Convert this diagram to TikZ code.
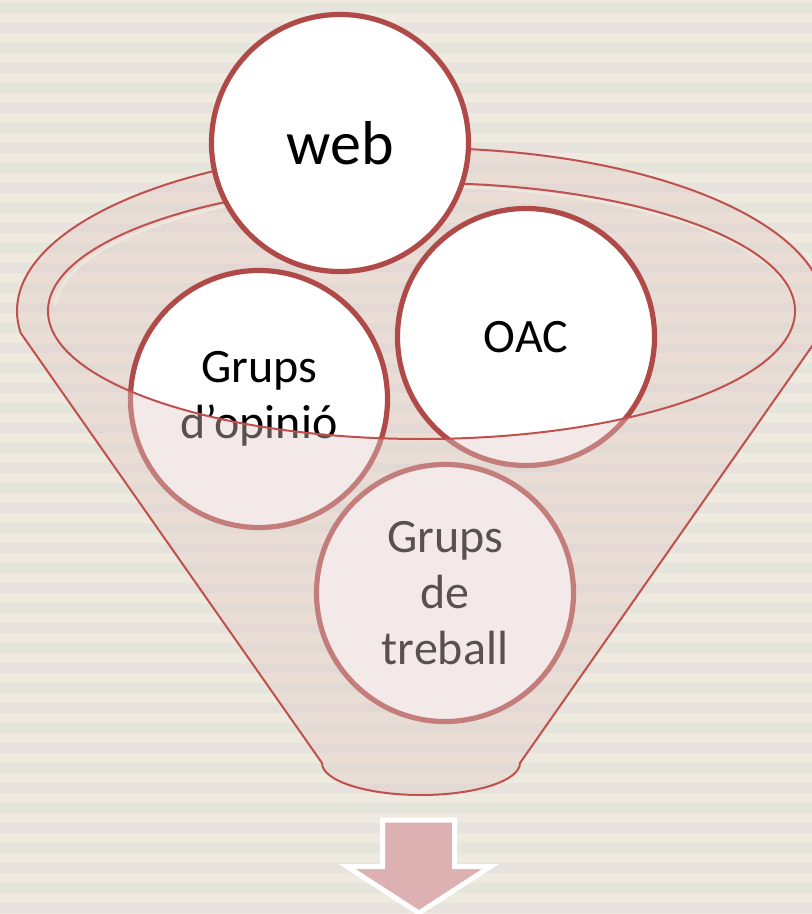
\documentclass[tikz,border=0pt]{standalone}
\usepackage{fontspec}
\setmainfont{Carlito}
\definecolor{paper}{RGB}{239,234,223}
\definecolor{stripeA}{RGB}{229,229,219}
\definecolor{stripeB}{RGB}{231,226,221}
\definecolor{funnelline}{RGB}{192,80,77}
\definecolor{funnelfill}{RGB}{225,202,200}
\definecolor{bubbleline}{RGB}{176,74,72}
\definecolor{arrowfill}{RGB}{221,176,177}
\begin{document}
\begin{tikzpicture}[x=0.5pt, y=0.5pt,
		bubble/.style={shape=circle, draw=bubbleline, line width=2.6pt, fill=white, minimum size=128.5pt, inner sep=0pt, align=center, font=\fontsize{24}{28}\selectfont},
		rim/.style={draw=funnelline, line width=1pt},
		glass/.style={fill=funnelfill, fill opacity=0.4}]
		\useasboundingbox (0,0) rectangle (812,-914);
		\fill[paper] (0,0) rectangle (812,-914);
		\foreach \s [count=\i] in {0,20,...,900}
			{\ifodd\i \fill[stripeA] (0,-\s-3) rectangle ++(812,-10); \else \fill[stripeB] (0,-\s-3) rectangle ++(812,-10); \fi}
		\fill[glass] (17,-311) arc[start angle=180, end angle=0, x radius=404, y radius=163] -- (795,-311) arc[start angle=0, end angle=-180, x radius=373.5, y radius=128] -- cycle;
		\draw[rim] (17,-311) arc[start angle=180, end angle=0, x radius=404, y radius=163];
		\draw[paper, line width=1.2pt, opacity=0.9] (55,-305) arc[start angle=177, end angle=-2, x radius=370, y radius=125];
		\draw[rim] (48,-311) arc[start angle=180, end angle=0, x radius=373.5, y radius=128];
		\node (web) at (340,-143) [bubble, font=\fontsize{31}{36}\selectfont] {web};
		\node (oac) at (526,-337) [bubble] {OAC};
		\node (opinio) at (259,-399) [bubble] {Grups\\d’opinió};
		\node (treball) at (445,-593) [bubble] {Grups\\de\\treball};
		\fill[glass] (48,-311) arc[start angle=180, end angle=360, x radius=373.5, y radius=128] -- (825,-311) arc[start angle=0, end angle=-7.76, x radius=404, y radius=163] -- (520,-763) arc[start angle=0, end angle=-180, x radius=99, y radius=32] -- (20.7,-333) arc[start angle=187.76, end angle=180, x radius=404, y radius=163] -- cycle;
		\draw[rim] (48,-311) arc[start angle=180, end angle=360, x radius=373.5, y radius=128];
		\draw[rim] (17,-311) arc[start angle=180, end angle=187.76, x radius=404, y radius=163] -- (322,-763) arc[start angle=180, end angle=360, x radius=99, y radius=32] -- (821.3,-333) arc[start angle=-7.76, end angle=0, x radius=404, y radius=163];
		\draw[white, line width=2.5pt, fill=arrowfill, miter limit=10] (382.5,-820) -- (454.5,-820) -- (454.5,-866.5) -- (490.5,-866.5) -- (419,-913) -- (347,-866.5) -- (382.5,-866.5) -- cycle;
		\end{tikzpicture}
\end{document}
